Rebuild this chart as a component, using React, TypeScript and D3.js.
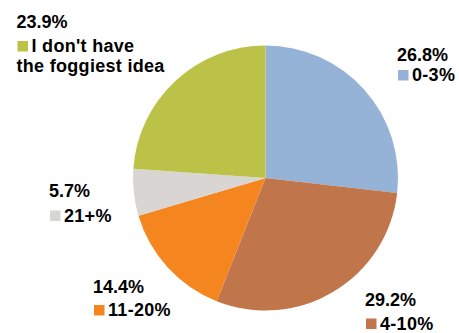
import React from "react";
import * as d3 from "d3";

const categories = ["0-3%", "4-10%", "11-20%", "21+%", "I don't have the foggiest idea"];
const values = [26.8, 29.2, 14.4, 5.7, 23.9];
const valueLabels = ["26.8%", "29.2%", "14.4%", "5.7%", "23.9%"];
const colors = ["#95B3D7", "#C0754A", "#F5861F", "#D9D5D2", "#BCC247"];

// label layout: position of the percentage line (x, baseline), legend line offset, wrapped category lines
const labelLayout = [
  { x: 397, y: 61, dy: 20, lines: ["0-3%"] },
  { x: 365, y: 306, dy: 23.5, lines: ["4-10%"] },
  { x: 93, y: 292.5, dy: 23.5, lines: ["11-20%"] },
  { x: 49, y: 196.5, dy: 25, lines: ["21+%"] },
  { x: 16.5, y: 28, dy: 24, lines: ["I don't have", "the foggiest idea"] },
];

const W = 459;
const H = 333;
const cx = 265.5;
const cy = 178;
const R = 132.5;

export default function App() {
  const pie = d3
    .pie<number>()
    .sort(null)
    .startAngle(0)
    .endAngle(2 * Math.PI)
    .value((d) => d);
  const arcs = pie(values);
  const arc = d3.arc<d3.PieArcDatum<number>>().innerRadius(0).outerRadius(R);
  const font = "'Liberation Sans', Arial, sans-serif";
  return (
    <svg
      width={W}
      height={H}
      style={{ position: "absolute", left: 0, top: 0, background: "#fff" }}
    >
      <g transform={`translate(${cx},${cy})`}>
        {arcs.map((a, i) => (
          <path key={i} d={arc(a) || ""} fill={colors[i]} />
        ))}
      </g>
      {labelLayout.map((l, i) => (
        <g key={i} fontFamily={font} fontWeight="bold" fontSize={18} fill="#000">
          <text x={l.x} y={l.y}>
            {valueLabels[i]}
          </text>
          <rect x={l.x + 1} y={l.y + l.dy - 11} width={10.5} height={10.5} fill={colors[i]} />
          {l.lines.map((t, j) => (
            <text
              key={j}
              x={j === 0 ? l.x + 15 : l.x}
              y={l.y + l.dy + j * 19.5}
              letterSpacing={0.3}
            >
              {t}
            </text>
          ))}
        </g>
      ))}
    </svg>
  );
}
